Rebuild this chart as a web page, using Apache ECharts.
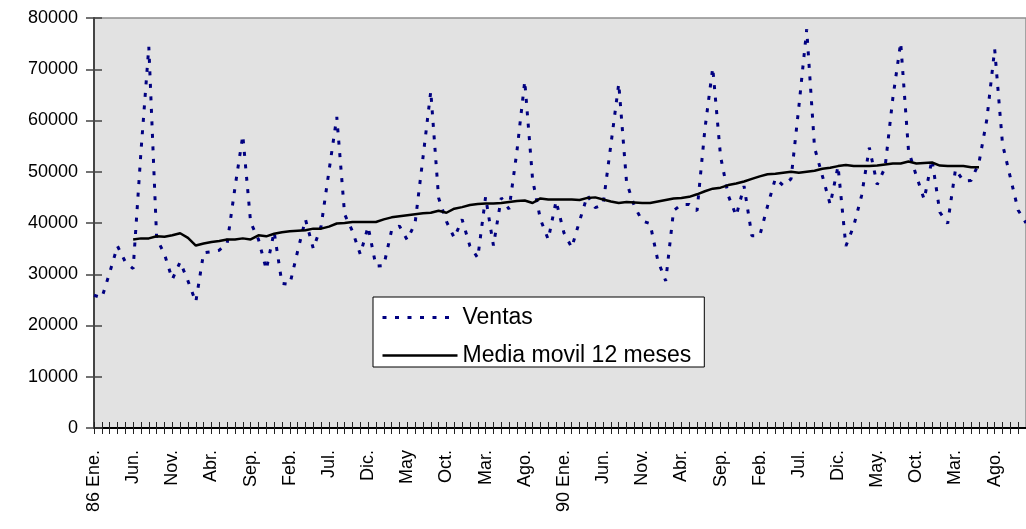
<!DOCTYPE html>
<html>
<head>
<meta charset="utf-8">
<script src="https://cdn.jsdelivr.net/npm/echarts@6/dist/echarts.min.js"></script>
<style>
  html, body { margin: 0; padding: 0; background: #ffffff; }
  #chart { width: 1026px; height: 529px; }
</style>
</head>
<body>
<div id="chart"></div>
<script>
// Monthly sales, 120 months
const ventas = [
  25900, 25400, 30300, 35500, 32400, 31100, 54000, 74400, 37000, 33900, 29000, 32400,
  28700, 24600, 34200, 34400, 34700, 36000, 46900, 57100, 40100, 36800, 30900, 38300,
  28200, 28000, 34500, 40700, 35000, 39400, 50100, 60700, 41700, 38400, 33900, 39300,
  31600, 31700, 38600, 39400, 36700, 40000, 52700, 65700, 44900, 40300, 37100, 40700,
  35500, 33200, 45100, 35600, 44900, 42700, 54000, 67700, 48500, 40700, 36800, 44300,
  38100, 35200, 40400, 45400, 43000, 43600, 55300, 67200, 47900, 43300, 40400, 39900,
  32600, 28700, 42400, 43600, 43600, 42400, 58300, 70300, 53000, 45300, 41400, 47200,
  37500, 37500, 43300, 48700, 47300, 48600, 62700, 77800, 54700, 49200, 43600, 51100,
  35500, 39400, 45300, 54700, 47500, 50800, 64400, 75200, 54100, 49200, 44600, 52400,
  42100, 39900, 50500, 48200, 48300, 51800, 60200, 73900, 55400, 48900, 42500, 40000
];

// 12-month moving average (defined from month 6 to month 114)
const mediaMovil = [
  null, null, null, null, null, 36800, 37000, 37000, 37400, 37300, 37600, 38000,
  37100, 35600, 36000, 36300, 36500, 36800, 36800, 37000, 36800, 37600, 37400, 37900,
  38200, 38400, 38500, 38600, 38900, 38900, 39300, 39900, 40000, 40200, 40200, 40200,
  40200, 40700, 41100, 41300, 41500, 41700, 41900, 42000, 42400, 42000, 42800, 43100,
  43500, 43700, 43800, 43800, 43900, 44100, 44300, 44400, 43900, 44800, 44600, 44600,
  44600, 44600, 44500, 44900, 45000, 44600, 44200, 43900, 44100, 44000, 43900, 43900,
  44200, 44500, 44800, 44900, 45100, 45600, 46200, 46700, 46900, 47400, 47700, 48100,
  48600, 49100, 49500, 49600, 49800, 50000, 49800, 50000, 50200, 50600, 50800, 51100,
  51300, 51100, 51100, 51100, 51200, 51400, 51600, 51600, 52000, 51600, 51700, 51800,
  51200, 51100, 51100, 51100, 50900, 50900, null, null, null, null, null, null
];

// Axis labels shown every fifth month
const tickLabels = [
  '86 Ene.', 'Jun.', 'Nov.', 'Abr.', 'Sep.', 'Feb.', 'Jul.', 'Dic.', 'May', 'Oct.', 'Mar.', 'Ago.',
  '90 Ene.', 'Jun.', 'Nov.', 'Abr.', 'Sep.', 'Feb.', 'Jul.', 'Dic.', 'May.', 'Oct.', 'Mar.', 'Ago.'
];

const monthNames = ['Ene.', 'Feb.', 'Mar.', 'Abr.', 'May', 'Jun.', 'Jul.', 'Ago.', 'Sep.', 'Oct.', 'Nov.', 'Dic.'];
const categories = ventas.map((_, i) => monthNames[i % 12] + ' ' + i);

const yTicks = { min: 0, max: 80000, interval: 10000 };

const FONT = '"Liberation Sans", Arial, sans-serif';

const chart = echarts.init(document.getElementById('chart'), null, { renderer: 'canvas' });

const labelFor = (value, index) => (index % 5 === 0 ? tickLabels[index / 5] : '');

// legend shows only the line sample, no marker
const noMarker = { color: 'rgba(0,0,0,0)', borderColor: 'rgba(0,0,0,0)', borderWidth: 0, opacity: 0 };

chart.setOption({
  animation: false,
  backgroundColor: '#ffffff',
  textStyle: { fontFamily: FONT },
  grid: {
    left: 94,
    top: 18,
    width: 943.7,
    height: 410,
    show: true,
    backgroundColor: '#e2e2e2',
    borderColor: '#8f8f8f',
    borderWidth: 1.5
  },
  legend: {
    orient: 'vertical',
    left: 373,
    top: 297,
    padding: [9, 13, 0, 8],
    itemWidth: 75,
    itemHeight: 14,
    itemGap: 15,
    backgroundColor: '#ffffff',
    borderColor: '#000000',
    borderWidth: 1,
    borderRadius: 0,
    itemStyle: noMarker,
    textStyle: { fontFamily: FONT, fontSize: 23, color: '#000000', lineHeight: 22 },
    data: [
      { name: 'Ventas', itemStyle: noMarker, lineStyle: { type: [4, 8.5], width: 3, color: '#000080' } },
      { name: 'Media movil 12 meses', itemStyle: noMarker, lineStyle: { type: 'solid', width: 2.5, color: '#000000' } }
    ]
  },
  xAxis: [
    {
      type: 'category',
      data: categories,
      boundaryGap: false,
      position: 'bottom',
      axisLine: { show: true, onZero: false, lineStyle: { color: '#000000', width: 2 } },
      axisTick: { show: true, interval: 0, length: 6, inside: false, lineStyle: { color: '#222222', width: 1 } },
      axisLabel: {
        interval: 4,
        rotate: 90,
        margin: 22,
        fontFamily: FONT,
        fontSize: 18,
        color: '#000000',
        formatter: labelFor
      },
      splitLine: { show: false }
    },
    {
      type: 'category',
      data: categories,
      boundaryGap: false,
      position: 'bottom',
      axisLine: { show: false },
      axisTick: { show: true, interval: 0, length: 6, inside: true, lineStyle: { color: '#222222', width: 1 } },
      axisLabel: { show: false },
      splitLine: { show: false }
    }
  ],
  yAxis: [
    {
      type: 'value',
      min: yTicks.min,
      max: yTicks.max,
      interval: yTicks.interval,
      position: 'left',
      axisLine: { show: true, lineStyle: { color: '#444444', width: 2 } },
      axisTick: { show: true, length: 8, inside: false, lineStyle: { color: '#444444', width: 1.5 } },
      axisLabel: {
        margin: 16,
        fontFamily: FONT,
        fontSize: 18,
        color: '#000000',
        formatter: (v) => String(v)
      },
      splitLine: { show: false }
    },
    {
      type: 'value',
      min: yTicks.min,
      max: yTicks.max,
      interval: yTicks.interval,
      position: 'left',
      axisLine: { show: false },
      axisTick: { show: true, length: 8, inside: true, lineStyle: { color: '#444444', width: 1.5 } },
      axisLabel: { show: false },
      splitLine: { show: false }
    }
  ],
  series: [
    {
      name: 'Ventas',
      type: 'line',
      data: ventas,
      xAxisIndex: 0,
      yAxisIndex: 0,
      symbol: 'none',
      lineStyle: { color: '#000080', width: 3, type: [4, 8.5], cap: 'butt' },
      itemStyle: { color: '#000080' },
      z: 3
    },
    {
      name: 'Media movil 12 meses',
      type: 'line',
      data: mediaMovil,
      xAxisIndex: 0,
      yAxisIndex: 0,
      symbol: 'none',
      lineStyle: { color: '#000000', width: 2.5, type: 'solid' },
      itemStyle: { color: '#000000' },
      z: 4
    }
  ]
});
</script>
</body>
</html>
